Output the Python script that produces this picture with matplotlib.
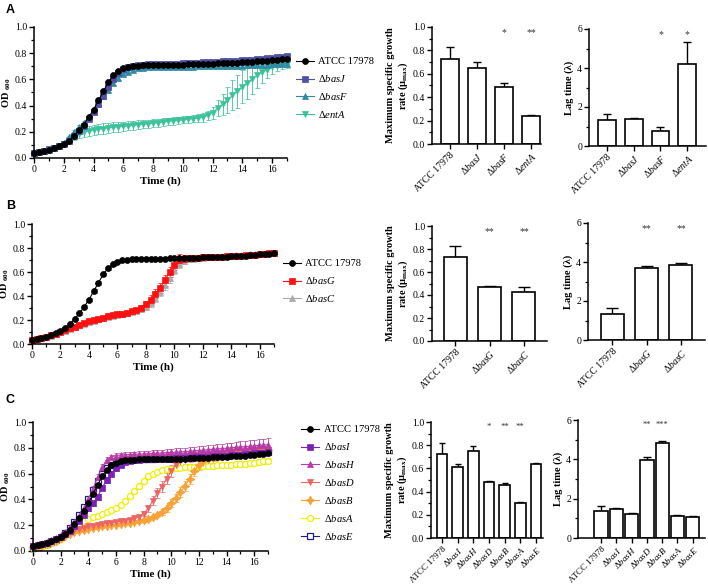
import matplotlib
matplotlib.use("Agg")
import matplotlib.pyplot as plt
from matplotlib.ticker import MultipleLocator

plt.rcParams['font.family'] = 'Liberation Serif'
plt.rcParams['mathtext.fontset'] = 'custom'
plt.rcParams['mathtext.rm'] = 'Liberation Serif'
plt.rcParams['mathtext.it'] = 'Liberation Serif:italic'
plt.rcParams['mathtext.bf'] = 'Liberation Serif:bold'
plt.rcParams['axes.linewidth'] = 1.1

# -------------------------------
# Growth curve data (OD600, sampled every 20 min)
# -------------------------------
time_min = [0, 20, 40, 60, 80, 100, 120, 140, 160, 180,
            200, 220, 240, 260, 280, 300, 320, 340, 360, 380,
            400, 420, 440, 460, 480, 500, 520, 540, 560, 580,
            600, 620, 640, 660, 680, 700, 720, 740, 760, 780,
            800, 820, 840, 860, 880, 900, 920, 940, 960, 980,
            1000, 1020]
time_h = [m / 60 for m in time_min]

atcc = [0.035, 0.043, 0.052, 0.062, 0.075, 0.090, 0.108, 0.132, 0.165, 0.210,
        0.255, 0.310, 0.370, 0.440, 0.510, 0.580, 0.630, 0.665, 0.685, 0.697,
        0.702, 0.706, 0.708, 0.710, 0.711, 0.711, 0.712, 0.712, 0.712, 0.713,
        0.713, 0.714, 0.715, 0.716, 0.718, 0.720, 0.721, 0.722, 0.724, 0.725,
        0.727, 0.729, 0.731, 0.733, 0.735, 0.737, 0.740, 0.743, 0.746, 0.749,
        0.752, 0.757]
atcc_err = [0.003, 0.003, 0.003, 0.004, 0.004, 0.005, 0.005, 0.006, 0.008, 0.010,
            0.012, 0.014, 0.015, 0.016, 0.016, 0.015, 0.013, 0.011, 0.009, 0.008,
            0.007, 0.007, 0.006, 0.006, 0.006, 0.006, 0.006, 0.006, 0.006, 0.006,
            0.006, 0.006, 0.007, 0.007, 0.007, 0.007, 0.007, 0.007, 0.008, 0.008,
            0.008, 0.008, 0.008, 0.009, 0.009, 0.009, 0.009, 0.010, 0.010, 0.010,
            0.011, 0.011]

basJ = [0.040, 0.047, 0.056, 0.066, 0.078, 0.093, 0.110, 0.133, 0.165, 0.205,
        0.248, 0.295, 0.350, 0.410, 0.475, 0.545, 0.605, 0.650, 0.680, 0.697,
        0.705, 0.710, 0.713, 0.715, 0.716, 0.717, 0.718, 0.719, 0.720, 0.721,
        0.722, 0.724, 0.726, 0.728, 0.730, 0.732, 0.734, 0.736, 0.738, 0.740,
        0.742, 0.744, 0.746, 0.748, 0.751, 0.754, 0.757, 0.760, 0.764, 0.768,
        0.772, 0.778]
basJ_err = [0.004, 0.004, 0.004, 0.005, 0.005, 0.005, 0.006, 0.007, 0.008, 0.010,
            0.012, 0.014, 0.016, 0.018, 0.018, 0.017, 0.015, 0.012, 0.010, 0.009,
            0.008, 0.008, 0.008, 0.008, 0.008, 0.008, 0.008, 0.009, 0.009, 0.009,
            0.009, 0.009, 0.010, 0.010, 0.010, 0.010, 0.010, 0.011, 0.011, 0.011,
            0.011, 0.012, 0.012, 0.012, 0.012, 0.013, 0.013, 0.013, 0.014, 0.014,
            0.014, 0.015]

basF = [0.040, 0.046, 0.054, 0.064, 0.077, 0.093, 0.115, 0.160, 0.200, 0.235,
        0.270, 0.310, 0.360, 0.420, 0.470, 0.520, 0.570, 0.610, 0.640, 0.660,
        0.675, 0.685, 0.690, 0.692, 0.694, 0.695, 0.695, 0.696, 0.696, 0.697,
        0.697, 0.698, 0.698, 0.699, 0.699, 0.700, 0.700, 0.701, 0.702, 0.703,
        0.704, 0.705, 0.706, 0.707, 0.708, 0.709, 0.710, 0.712, 0.714, 0.716,
        0.718, 0.720]
basF_err = [0.004, 0.004, 0.004, 0.005, 0.005, 0.006, 0.007, 0.010, 0.012, 0.014,
            0.015, 0.016, 0.017, 0.018, 0.018, 0.017, 0.016, 0.014, 0.012, 0.011,
            0.010, 0.010, 0.010, 0.010, 0.010, 0.010, 0.010, 0.010, 0.010, 0.010,
            0.010, 0.010, 0.010, 0.010, 0.011, 0.011, 0.011, 0.011, 0.011, 0.011,
            0.012, 0.012, 0.012, 0.012, 0.012, 0.012, 0.013, 0.013, 0.013, 0.013,
            0.013, 0.014]

entA = [0.038, 0.045, 0.054, 0.064, 0.077, 0.092, 0.110, 0.140, 0.165, 0.185,
        0.198, 0.207, 0.214, 0.220, 0.225, 0.230, 0.235, 0.239, 0.242, 0.246,
        0.250, 0.254, 0.258, 0.262, 0.266, 0.270, 0.275, 0.279, 0.283, 0.287,
        0.292, 0.296, 0.300, 0.304, 0.310, 0.325, 0.345, 0.380, 0.410, 0.440,
        0.480, 0.510, 0.545, 0.570, 0.600, 0.630, 0.655, 0.675, 0.695, 0.705,
        0.713, 0.718]
entA_err = [0.004, 0.004, 0.005, 0.005, 0.006, 0.007, 0.010, 0.020, 0.030, 0.035,
            0.038, 0.040, 0.040, 0.040, 0.040, 0.039, 0.038, 0.037, 0.036, 0.035,
            0.034, 0.033, 0.032, 0.031, 0.030, 0.030, 0.029, 0.029, 0.028, 0.028,
            0.028, 0.028, 0.029, 0.030, 0.032, 0.036, 0.045, 0.060, 0.080, 0.100,
            0.115, 0.125, 0.125, 0.120, 0.110, 0.095, 0.080, 0.065, 0.050, 0.040,
            0.035, 0.030]

basG = [0.030, 0.040, 0.050, 0.060, 0.072, 0.085, 0.100, 0.115, 0.130, 0.145,
        0.160, 0.175, 0.188, 0.200, 0.210, 0.220, 0.230, 0.238, 0.246, 0.254,
        0.262, 0.272, 0.285, 0.302, 0.330, 0.370, 0.420, 0.470, 0.530, 0.600,
        0.660, 0.700, 0.712, 0.715, 0.717, 0.719, 0.721, 0.722, 0.724, 0.726,
        0.728, 0.730, 0.732, 0.734, 0.736, 0.738, 0.741, 0.745, 0.750, 0.754,
        0.757, 0.760]
basG_err = [0.004, 0.004, 0.005, 0.005, 0.005, 0.006, 0.006, 0.007, 0.007, 0.008,
            0.008, 0.009, 0.009, 0.010, 0.010, 0.010, 0.011, 0.011, 0.012, 0.013,
            0.014, 0.016, 0.018, 0.022, 0.028, 0.035, 0.040, 0.042, 0.044, 0.045,
            0.046, 0.050, 0.030, 0.020, 0.015, 0.012, 0.011, 0.010, 0.010, 0.010,
            0.010, 0.010, 0.010, 0.010, 0.010, 0.010, 0.010, 0.010, 0.010, 0.010,
            0.010, 0.010]

basC = [0.030, 0.038, 0.048, 0.058, 0.070, 0.083, 0.098, 0.112, 0.127, 0.142,
        0.156, 0.170, 0.183, 0.195, 0.205, 0.215, 0.224, 0.232, 0.240, 0.248,
        0.256, 0.264, 0.274, 0.288, 0.308, 0.340, 0.385, 0.435, 0.490, 0.550,
        0.620, 0.665, 0.690, 0.705, 0.712, 0.717, 0.720, 0.722, 0.725, 0.728,
        0.731, 0.734, 0.737, 0.740, 0.742, 0.744, 0.746, 0.748, 0.751, 0.754,
        0.757, 0.760]
basC_err = [0.004, 0.004, 0.005, 0.005, 0.005, 0.006, 0.006, 0.007, 0.007, 0.008,
            0.008, 0.009, 0.009, 0.010, 0.010, 0.010, 0.011, 0.011, 0.012, 0.013,
            0.014, 0.015, 0.017, 0.020, 0.025, 0.030, 0.035, 0.038, 0.040, 0.040,
            0.040, 0.035, 0.025, 0.018, 0.014, 0.012, 0.011, 0.010, 0.010, 0.010,
            0.010, 0.010, 0.010, 0.010, 0.010, 0.010, 0.010, 0.010, 0.010, 0.010,
            0.010, 0.010]

basI = [0.035, 0.043, 0.052, 0.062, 0.075, 0.090, 0.108, 0.130, 0.158, 0.195,
        0.235, 0.280, 0.330, 0.370, 0.420, 0.490, 0.550, 0.600, 0.640, 0.670,
        0.690, 0.700, 0.705, 0.708, 0.710, 0.711, 0.712, 0.713, 0.714, 0.715,
        0.716, 0.718, 0.720, 0.722, 0.724, 0.726, 0.728, 0.730, 0.732, 0.734,
        0.736, 0.738, 0.740, 0.742, 0.744, 0.747, 0.750, 0.753, 0.756, 0.759,
        0.762, 0.765]
basI_err = [0.004, 0.004, 0.005, 0.005, 0.006, 0.006, 0.007, 0.008, 0.010, 0.012,
            0.014, 0.016, 0.018, 0.020, 0.021, 0.021, 0.020, 0.018, 0.016, 0.014,
            0.012, 0.011, 0.010, 0.010, 0.010, 0.010, 0.010, 0.010, 0.011, 0.011,
            0.011, 0.011, 0.012, 0.012, 0.012, 0.012, 0.013, 0.013, 0.013, 0.013,
            0.014, 0.014, 0.014, 0.014, 0.015, 0.015, 0.015, 0.015, 0.016, 0.016,
            0.016, 0.016]

basH = [0.040, 0.048, 0.058, 0.070, 0.085, 0.102, 0.122, 0.150, 0.185, 0.225,
        0.275, 0.330, 0.400, 0.480, 0.570, 0.650, 0.705, 0.730, 0.740, 0.744,
        0.746, 0.748, 0.750, 0.751, 0.752, 0.754, 0.756, 0.758, 0.760, 0.762,
        0.764, 0.766, 0.768, 0.770, 0.773, 0.776, 0.779, 0.782, 0.785, 0.788,
        0.791, 0.794, 0.797, 0.800, 0.803, 0.806, 0.809, 0.812, 0.815, 0.818,
        0.821, 0.824]
basH_err = [0.005, 0.005, 0.005, 0.006, 0.006, 0.007, 0.008, 0.010, 0.012, 0.015,
            0.018, 0.020, 0.022, 0.024, 0.024, 0.022, 0.020, 0.018, 0.017, 0.017,
            0.018, 0.019, 0.020, 0.021, 0.022, 0.023, 0.024, 0.025, 0.026, 0.027,
            0.028, 0.029, 0.030, 0.031, 0.032, 0.033, 0.034, 0.035, 0.036, 0.037,
            0.038, 0.039, 0.040, 0.041, 0.042, 0.043, 0.044, 0.045, 0.046, 0.047,
            0.048, 0.050]

basD = [0.035, 0.042, 0.050, 0.060, 0.072, 0.086, 0.103, 0.125, 0.145, 0.160,
        0.172, 0.182, 0.190, 0.197, 0.203, 0.209, 0.215, 0.220, 0.225, 0.230,
        0.236, 0.243, 0.252, 0.264, 0.290, 0.330, 0.390, 0.450, 0.500, 0.560,
        0.620, 0.670, 0.700, 0.715, 0.722, 0.727, 0.731, 0.735, 0.739, 0.743,
        0.747, 0.751, 0.755, 0.758, 0.761, 0.764, 0.767, 0.770, 0.773, 0.776,
        0.779, 0.782]
basD_err = [0.004, 0.004, 0.005, 0.005, 0.006, 0.006, 0.007, 0.008, 0.009, 0.010,
            0.010, 0.011, 0.011, 0.012, 0.012, 0.012, 0.013, 0.013, 0.013, 0.014,
            0.014, 0.015, 0.016, 0.018, 0.022, 0.028, 0.034, 0.038, 0.040, 0.042,
            0.043, 0.044, 0.042, 0.038, 0.034, 0.030, 0.028, 0.026, 0.025, 0.025,
            0.025, 0.025, 0.025, 0.025, 0.025, 0.026, 0.026, 0.026, 0.027, 0.027,
            0.028, 0.028]

basB = [0.030, 0.037, 0.045, 0.055, 0.067, 0.080, 0.097, 0.118, 0.135, 0.148,
        0.158, 0.166, 0.173, 0.179, 0.185, 0.190, 0.195, 0.200, 0.205, 0.210,
        0.215, 0.220, 0.226, 0.232, 0.240, 0.250, 0.262, 0.278, 0.300, 0.330,
        0.370, 0.410, 0.455, 0.505, 0.560, 0.620, 0.665, 0.695, 0.712, 0.722,
        0.730, 0.736, 0.742, 0.747, 0.752, 0.757, 0.762, 0.766, 0.770, 0.774,
        0.778, 0.782]
basB_err = [0.004, 0.004, 0.004, 0.005, 0.005, 0.006, 0.006, 0.007, 0.008, 0.008,
            0.009, 0.009, 0.009, 0.010, 0.010, 0.010, 0.010, 0.010, 0.010, 0.011,
            0.011, 0.011, 0.012, 0.012, 0.013, 0.014, 0.016, 0.018, 0.022, 0.026,
            0.030, 0.034, 0.038, 0.040, 0.040, 0.038, 0.034, 0.030, 0.026, 0.024,
            0.022, 0.021, 0.020, 0.020, 0.020, 0.020, 0.020, 0.021, 0.021, 0.022,
            0.022, 0.022]

basA = [0.020, 0.028, 0.037, 0.048, 0.060, 0.075, 0.093, 0.125, 0.160, 0.190,
        0.212, 0.232, 0.250, 0.263, 0.275, 0.288, 0.300, 0.315, 0.335, 0.360,
        0.390, 0.425, 0.465, 0.505, 0.545, 0.578, 0.600, 0.615, 0.625, 0.632,
        0.637, 0.641, 0.645, 0.648, 0.651, 0.654, 0.656, 0.658, 0.660, 0.662,
        0.664, 0.666, 0.668, 0.670, 0.672, 0.675, 0.678, 0.682, 0.686, 0.690,
        0.694, 0.700]
basA_err = [0.004, 0.004, 0.004, 0.005, 0.005, 0.005, 0.006, 0.006, 0.007, 0.007,
            0.008, 0.008, 0.008, 0.009, 0.009, 0.009, 0.010, 0.010, 0.010, 0.011,
            0.011, 0.012, 0.012, 0.013, 0.013, 0.013, 0.013, 0.013, 0.013, 0.013,
            0.013, 0.013, 0.013, 0.013, 0.014, 0.014, 0.014, 0.014, 0.014, 0.015,
            0.015, 0.015, 0.015, 0.016, 0.016, 0.016, 0.017, 0.017, 0.018, 0.018,
            0.019, 0.020]

basE = [0.025, 0.033, 0.043, 0.055, 0.070, 0.088, 0.110, 0.140, 0.180, 0.225,
        0.280, 0.340, 0.400, 0.470, 0.540, 0.600, 0.640, 0.670, 0.690, 0.700,
        0.706, 0.710, 0.712, 0.714, 0.715, 0.716, 0.717, 0.718, 0.719, 0.720,
        0.721, 0.722, 0.724, 0.726, 0.728, 0.730, 0.732, 0.734, 0.736, 0.738,
        0.740, 0.742, 0.744, 0.746, 0.748, 0.750, 0.753, 0.756, 0.759, 0.762,
        0.765, 0.768]
basE_err = [0.004, 0.004, 0.004, 0.005, 0.005, 0.006, 0.006, 0.007, 0.008, 0.010,
            0.012, 0.014, 0.015, 0.016, 0.016, 0.015, 0.014, 0.012, 0.011, 0.010,
            0.010, 0.010, 0.010, 0.010, 0.010, 0.010, 0.010, 0.010, 0.010, 0.010,
            0.010, 0.010, 0.010, 0.011, 0.011, 0.011, 0.011, 0.011, 0.011, 0.012,
            0.012, 0.012, 0.012, 0.012, 0.012, 0.013, 0.013, 0.013, 0.013, 0.013,
            0.014, 0.014]

# -------------------------------
# Bar chart data
# -------------------------------
strains_A = ['ATCC 17978', 'basJ', 'basF', 'entA']
rate_A = [0.73, 0.65, 0.49, 0.24]
rate_A_err = [0.10, 0.055, 0.03, 0.01]
rate_A_sig = ['', '', '*', '**']
lag_A = [1.35, 1.38, 0.78, 4.20]
lag_A_err = [0.30, 0.08, 0.17, 1.15]
lag_A_sig = ['', '', '*', '*']

strains_B = ['ATCC 17978', 'basG', 'basC']
rate_B = [0.73, 0.47, 0.43]
rate_B_err = [0.10, 0.008, 0.04]
rate_B_sig = ['', '**', '**']
lag_B = [1.35, 3.70, 3.85]
lag_B_err = [0.30, 0.07, 0.08]
lag_B_sig = ['', '**', '**']

strains_C = ['ATCC 17978', 'basI', 'basH', 'basD', 'basB', 'basA', 'basE']
rate_C = [0.72, 0.61, 0.75, 0.48, 0.46, 0.30, 0.64]
rate_C_err = [0.10, 0.03, 0.04, 0.01, 0.015, 0.01, 0.01]
rate_C_sig = ['', '', '', '*', '**', '**', '']
lag_C = [1.35, 1.50, 1.22, 3.97, 4.85, 1.13, 1.05]
lag_C_err = [0.30, 0.03, 0.05, 0.15, 0.10, 0.03, 0.05]
lag_C_sig = ['', '', '', '**', '***', '', '']

# color, marker, filled
styles = {
    'ATCC 17978': ('black', 'o', True),
    'basJ': ('#4f4fa6', 's', True),
    'basF': ('#2f8aa3', '^', True),
    'entA': ('#3cc29a', 'v', True),
    'basG': ('#ff1010', 's', True),
    'basC': ('#a8a8a8', '^', True),
    'basI': ('#7a22b4', 's', True),
    'basH': ('#b83aa6', '^', True),
    'basD': ('#ec6464', 'v', True),
    'basB': ('#f7a236', (4, 1, 0), True),
    'basA': ('#f0ee00', 'o', False),
    'basE': ('#1e1e8c', 's', False),
}

W, H = 708, 585
fig = plt.figure(figsize=(W / 100, H / 100), dpi=100)


def label_of(name):
    if name.startswith('ATCC'):
        return name
    return 'Δ$\\mathit{' + name + '}$'


def px_axes(left, top, right, bottom):
    return fig.add_axes([left / W, 1 - bottom / H, (right - left) / W, (bottom - top) / H])


def style_axis(ax):
    for s in ['top', 'right']:
        ax.spines[s].set_visible(False)
    ax.tick_params(which='major', direction='out', length=3.5, width=1.0, labelsize=7, pad=1.5)
    ax.tick_params(which='minor', direction='out', length=2, width=0.9)


def growth_panel(box, series, leg_xy, textpad):
    ax = px_axes(*box)
    handles = {}
    for name, y, err in reversed(series):
        c, m, filled = styles[name]
        ms = 6.5 if m == (4, 1, 0) else 4.3
        cont = ax.errorbar(time_h, y, yerr=err, color=c, marker=m, ms=ms,
                           mfc=c if filled else 'white', mec=c, mew=0.9 if not filled else 0.5,
                           lw=0.8, elinewidth=0.6, capsize=1.8, capthick=0.6, clip_on=False)
        handles[name] = cont[0]
    ax.set_xlim(0, 17)
    ax.set_ylim(0, 1.0)
    ax.xaxis.set_major_locator(MultipleLocator(2))
    ax.xaxis.set_minor_locator(MultipleLocator(1))
    ax.yaxis.set_major_locator(MultipleLocator(0.2))
    ax.yaxis.set_minor_locator(MultipleLocator(0.1))
    ax.yaxis.set_major_formatter(plt.FormatStrFormatter('%.1f'))
    style_axis(ax)
    ax.set_xlabel('Time (h)', fontsize=8, fontweight='bold', labelpad=2)
    ax.set_ylabel('OD $_{\\mathbf{600}}$', fontsize=7.5, fontweight='bold', labelpad=1)
    names = [s[0] for s in series]
    ax.legend([handles[n] for n in names], [label_of(n) for n in names],
              loc='upper left', bbox_to_anchor=(leg_xy[0] / W, 1 - leg_xy[1] / H),
              bbox_transform=fig.transFigure, frameon=False, fontsize=7.6,
              handlelength=1.7, handletextpad=textpad, labelspacing=0.65,
              borderpad=0, borderaxespad=0)
    return ax


def bar_panel(box, strains, vals, errs, sig, ymax, major, minor, ylabel, xlim, width, cap, fmt,
              xfs, sfs):
    ax = px_axes(*box)
    x = list(range(len(vals)))
    ax.bar(x, vals, width=width, color='white', edgecolor='black', linewidth=1.2, zorder=2)
    ax.errorbar(x, vals, yerr=[[0] * len(vals), errs], fmt='none', ecolor='black',
                elinewidth=1.0, capsize=cap, capthick=1.0, zorder=1)
    for i, s in enumerate(sig):
        if s:
            ax.text(i, ymax * 0.955, s, ha='center', va='center', fontsize=sfs, color='#333333')
    ax.set_xlim(*xlim)
    ax.set_ylim(0, ymax)
    ax.yaxis.set_major_locator(MultipleLocator(major))
    ax.yaxis.set_minor_locator(MultipleLocator(minor))
    ax.yaxis.set_major_formatter(plt.FormatStrFormatter(fmt))
    ax.set_xticks(x)
    ax.set_xticklabels([label_of(s) for s in strains], rotation=45, ha='right',
                       rotation_mode='anchor')
    style_axis(ax)
    ax.tick_params(axis='x', labelsize=xfs)
    ax.set_ylabel(ylabel, fontsize=7.5, fontweight='bold', labelpad=2)
    return ax


rate_label = 'Maximum specific growth\nrate (μ$_{\\mathbf{max}}$)'
lag_label = 'Lag time (λ)'

# -------------------------------
# Row A
# -------------------------------
growth_panel((34, 27, 287, 158),
             [('ATCC 17978', atcc, atcc_err), ('basJ', basJ, basJ_err),
              ('basF', basF, basF_err), ('entA', entA, entA_err)],
             (296, 57), 0.35)
bar_panel((432, 27, 541, 144), strains_A, rate_A, rate_A_err, rate_A_sig,
          1.0, 0.2, 0.1, rate_label, (-0.65, 3.37), 0.67, 3.2, '%.1f', 7, 7)
bar_panel((589, 29, 706, 146), strains_A, lag_A, lag_A_err, lag_A_sig,
          6, 2, 1, lag_label, (-0.67, 3.7), 0.67, 3.2, '%d', 7, 7)

# -------------------------------
# Row B
# -------------------------------
growth_panel((32, 224, 274, 344),
             [('ATCC 17978', atcc, atcc_err), ('basG', basG, basG_err),
              ('basC', basC, basC_err)],
             (283, 259), 0.35)
bar_panel((432, 226, 547, 341), strains_B, rate_B, rate_B_err, rate_B_sig,
          1.0, 0.2, 0.1, rate_label, (-0.67, 2.67), 0.67, 4.0, '%.1f', 7, 7)
bar_panel((588, 223, 705, 340), strains_B, lag_B, lag_B_err, lag_B_sig,
          6, 2, 1, lag_label, (-0.7, 2.7), 0.67, 4.0, '%d', 7, 7)

# -------------------------------
# Row C
# -------------------------------
growth_panel((33, 422, 268, 551),
             [('ATCC 17978', atcc, atcc_err), ('basI', basI, basI_err),
              ('basH', basH, basH_err), ('basD', basD, basD_err),
              ('basB', basB, basB_err), ('basA', basA, basA_err),
              ('basE', basE, basE_err)],
             (301, 425), 0.5)
bar_panel((431, 422, 543, 538), strains_C, rate_C, rate_C_err, rate_C_sig,
          1.0, 0.2, 0.1, rate_label, (-0.7, 6.45), 0.68, 2.2, '%.1f', 6.5, 6.3)
bar_panel((578, 420, 705, 538), strains_C, lag_C, lag_C_err, lag_C_sig,
          6, 2, 1, lag_label, (-1.5, 6.8), 0.87, 2.6, '%d', 6.5, 6.0)

# panel letters
for letter, y in [('A', 10), ('B', 206), ('C', 400)]:
    fig.text(6 / W, 1 - y / H, letter, fontsize=9, fontweight='bold',
             family='Liberation Sans', va='center', ha='left')

fig.savefig('out.png', dpi=100)
